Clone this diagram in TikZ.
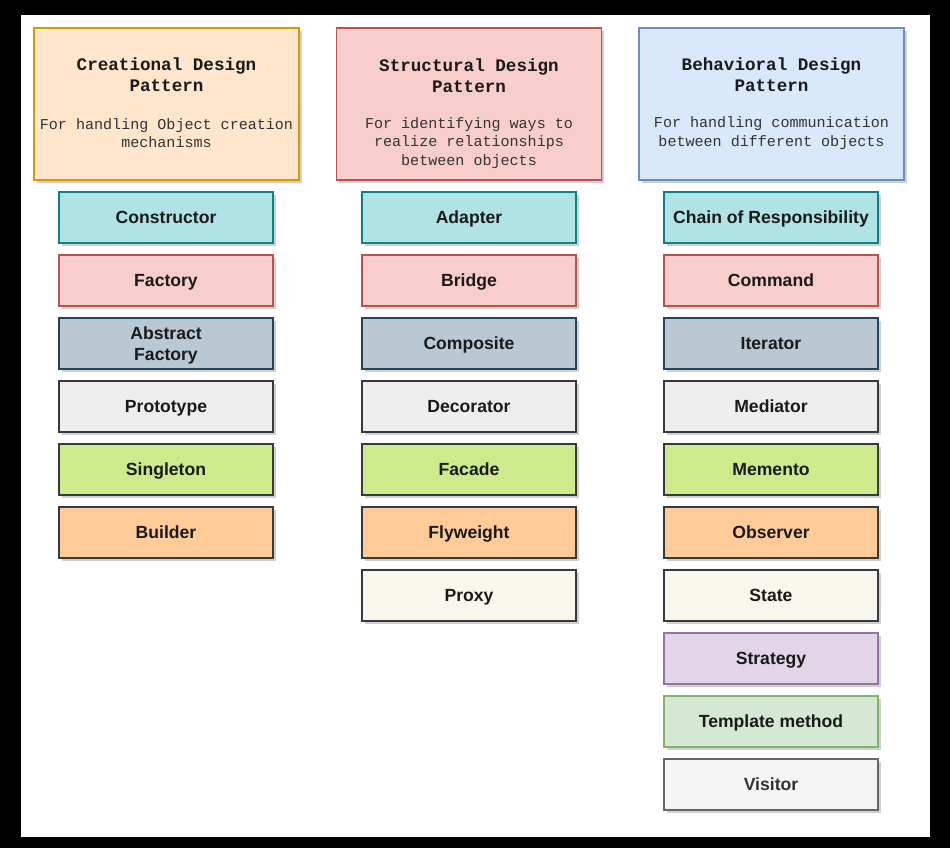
\documentclass[tikz,border=0pt]{standalone}
\usepackage{fontspec}
\setmainfont{Liberation Sans}
\newfontfamily\monofont{Liberation Mono}
\usetikzlibrary{shadows}
\definecolor{hAfill}{HTML}{FFE6CC}\definecolor{hAline}{HTML}{D79B00}
\definecolor{hBfill}{HTML}{F8CECC}\definecolor{hBline}{HTML}{B85450}
\definecolor{hCfill}{HTML}{DAE8FC}\definecolor{hCline}{HTML}{6C8EBF}
\definecolor{tealF}{HTML}{B0E3E6}\definecolor{tealL}{HTML}{0E8088}
\definecolor{redF}{HTML}{F8CECC}\definecolor{redL}{HTML}{B85450}
\definecolor{slateF}{HTML}{BAC8D3}\definecolor{slateL}{HTML}{23445D}
\definecolor{greyF}{HTML}{EEEEEE}\definecolor{darkL}{HTML}{36393D}
\definecolor{limeF}{HTML}{CDEB8B}
\definecolor{orangeF}{HTML}{FFCC99}
\definecolor{creamF}{HTML}{F9F7ED}
\definecolor{purpleF}{HTML}{E1D5E7}\definecolor{purpleL}{HTML}{9673A6}
\definecolor{greenF}{HTML}{D5E8D4}\definecolor{greenL}{HTML}{82B366}
\definecolor{lightF}{HTML}{F5F5F5}\definecolor{lightL}{HTML}{666666}
\definecolor{txtdark}{HTML}{1A1A1A}\definecolor{txtgrey}{HTML}{333333}
\begin{document}
\begin{tikzpicture}[x=0.75pt,y=-0.75pt,
  shad/.style={drop shadow={shadow xshift=2pt,shadow yshift=-2pt,opacity=0.3,fill=black!60}},
  hdr/.style={draw,line width=0.9pt,minimum width=198.75pt,minimum height=114pt,inner sep=0pt,shad},
  ttl/.style={font=\monofont\bfseries\fontsize{13.2}{15.75}\selectfont,align=center,text=txtdark,inner sep=0pt},
  sub/.style={font=\monofont\fontsize{11.3}{13.9}\selectfont,align=center,text=txtgrey,inner sep=0pt},
  item/.style={draw,line width=0.9pt,minimum width=160.5pt,minimum height=38.25pt,inner sep=0pt,
     font=\bfseries\fontsize{13.2}{15.75}\selectfont,align=center,text=txtdark,shad},
  one/.style={text height=9.5pt,text depth=0pt},
  two/.style={text height=25.25pt,text depth=0pt},
  teal/.style={item,one,fill=tealF,draw=tealL},
  red/.style={item,one,fill=redF,draw=redL},
  slate/.style={item,fill=slateF,draw=slateL},
  grey/.style={item,one,fill=greyF,draw=darkL},
  lime/.style={item,one,fill=limeF,draw=darkL},
  orange/.style={item,one,fill=orangeF,draw=darkL},
  cream/.style={item,one,fill=creamF,draw=darkL},
  purple/.style={item,one,fill=purpleF,draw=purpleL},
  green/.style={item,one,fill=greenF,draw=greenL},
  light/.style={item,one,fill=lightF,draw=lightL,text=txtgrey}]
\fill[black] (0,0) rectangle (950,848);
\fill[white] (21,15) rectangle (930,837);
\useasboundingbox (0,0) rectangle (950,848);
% headers
\node[hdr,fill=hAfill,draw=hAline] (h1) at (166.5,104) {};
\node[hdr,fill=hBfill,draw=hBline] (h2) at (469,104) {};
\node[hdr,fill=hCfill,draw=hCline] (h3) at (771.5,104) {};
\node[ttl] (h1t) at (166.5,75) {Creational Design\\Pattern};
\node[sub] (h1s) at (166.5,133) {For handling Object creation\\mechanisms};
\node[ttl] (h2t) at (469,76) {Structural Design\\Pattern};
\node[sub] (h2s) at (469,143) {For identifying ways to\\realize relationships\\between objects};
\node[ttl] (h3t) at (771.5,75) {Behavioral Design\\Pattern};
\node[sub] (h3s) at (771.5,133) {For handling communication\\between different objects};
% column 1
\node[teal]   (c1) at (166,217.5) {Constructor};
\node[red]    (c2) at (166,280.5) {Factory};
\node[slate,two] (c3) at (166,343.5) {Abstract\\Factory};
\node[grey]   (c4) at (166,406.5) {Prototype};
\node[lime]   (c5) at (166,469.5) {Singleton};
\node[orange] (c6) at (166,532.5) {Builder};
% column 2
\node[teal]   (s1) at (469,217.5) {Adapter};
\node[red]    (s2) at (469,280.5) {Bridge};
\node[slate,one] (s3) at (469,343.5) {Composite};
\node[grey]   (s4) at (469,406.5) {Decorator};
\node[lime]   (s5) at (469,469.5) {Facade};
\node[orange] (s6) at (469,532.5) {Flyweight};
\node[cream]  (s7) at (469,595.5) {Proxy};
% column 3
\node[teal]   (b1) at (771,217.5) {Chain of Responsibility};
\node[red]    (b2) at (771,280.5) {Command};
\node[slate,one] (b3) at (771,343.5) {Iterator};
\node[grey]   (b4) at (771,406.5) {Mediator};
\node[lime]   (b5) at (771,469.5) {Memento};
\node[orange] (b6) at (771,532.5) {Observer};
\node[cream]  (b7) at (771,595.5) {State};
\node[purple] (b8) at (771,658.5) {Strategy};
\node[green]  (b9) at (771,721.5) {Template method};
\node[light]  (b10) at (771,784.5) {Visitor};
\end{tikzpicture}
\end{document}
